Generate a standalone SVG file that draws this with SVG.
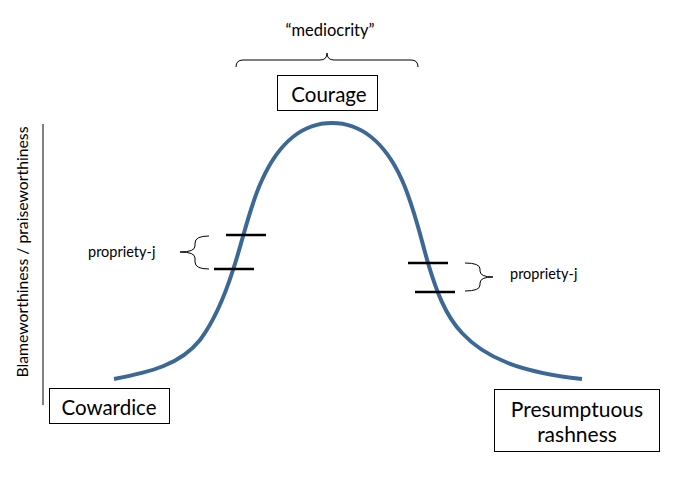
<svg xmlns="http://www.w3.org/2000/svg" width="676" height="489" viewBox="0 0 676 489">
<style>
text{font-family:"Lato","Liberation Sans",sans-serif;fill:#000}
.box{fill:#fff;stroke:#000;stroke-width:1}
.lbl{font-size:20.5px;text-anchor:middle}
.small{font-size:14.5px}
.brace{fill:none;stroke:#000;stroke-width:1}
.tick{stroke:#000;stroke-width:2.5}
.curve{fill:none;stroke:#3c6895;stroke-width:4;stroke-linecap:butt}
</style>
<rect width="676" height="489" fill="#fff"/>
<g id="axis">
<line x1="43" y1="124" x2="43" y2="405" stroke="#000" stroke-width="1"/>
<text class="small" transform="translate(28,252) rotate(-90)" text-anchor="middle" textLength="251" lengthAdjust="spacingAndGlyphs">Blameworthiness / praiseworthiness</text>
</g>
<g id="connectors">
<path class="curve" d="M114,379 C150,372 180,365 200,340 C215,320 225,295 233,270 C243,240 250,205 262,180 C280,140 305,123 332,123 C359,123 384,140 402,180 C414,207 420,235 428,263 C436,290 445,315 462,333 C485,358 520,372 582,379"/>
<line class="tick" x1="226" y1="235" x2="266" y2="235"/>
<line class="tick" x1="214" y1="269" x2="254" y2="269"/>
<line class="tick" x1="408" y1="263" x2="448" y2="263"/>
<line class="tick" x1="415" y1="292" x2="455" y2="292"/>
</g>
<g id="mediocrity">
<text x="330" y="36" text-anchor="middle" style="font-size:16.5px">“mediocrity”</text>
<path class="brace" d="M236,67 Q236,60 243,60 L320,60 Q327,60 327,53 Q327,60 334,60 L411,60 Q418,60 418,67"/>
</g>
<g id="courage">
<rect class="box" x="277.5" y="75.5" width="100" height="35"/>
<text class="lbl" x="329" y="102">Courage</text>
</g>
<g id="cowardice">
<rect class="box" x="49.5" y="388.5" width="120" height="35"/>
<text class="lbl" x="109" y="415">Cowardice</text>
</g>
<g id="rashness">
<rect class="box" x="494.5" y="389.5" width="165" height="62"/>
<text class="lbl" x="577" y="417" style="font-size:21px">Presumptuous</text>
<text class="lbl" x="577" y="442" style="font-size:21px">rashness</text>
</g>
<g id="propriety-left">
<text class="small" x="88" y="257">propriety-j</text>
<path class="brace" d="M209,236 Q195,236 195,243 L195,246 Q195,252 180,252 Q195,252 195,258 L195,262 Q195,269 209,269"/>
</g>
<g id="propriety-right">
<text class="small" x="510" y="279">propriety-j</text>
<path class="brace" d="M465,263 Q480,263 480,269 L480,271 Q480,277 493,277 Q480,277 480,283 L480,285 Q480,291 465,291"/>
</g>
</svg>
